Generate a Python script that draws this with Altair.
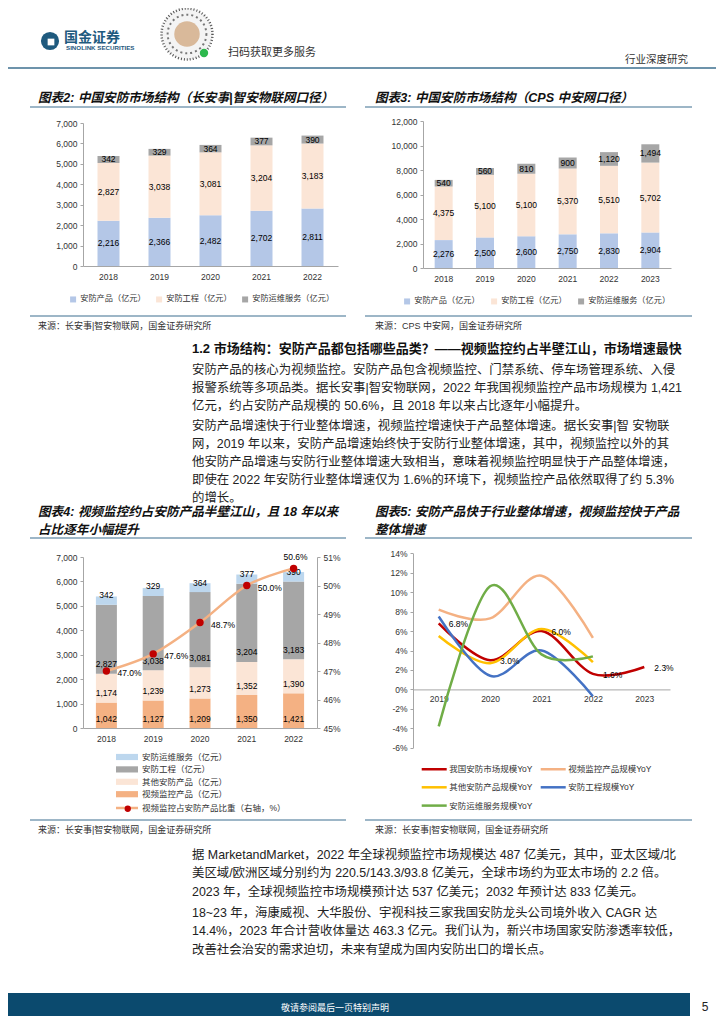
import altair as alt
import pandas as pd

# ---------------- data ----------------
years_fig2 = ["2018", "2019", "2020", "2021", "2022"]
fig2_series = ["安防产品（亿元）", "安防工程（亿元）", "安防运维服务（亿元）"]
fig2_products = [2216, 2366, 2482, 2702, 2811]
fig2_engineering = [2827, 3038, 3081, 3204, 3183]
fig2_services = [342, 329, 364, 377, 390]
fig2_ticks = [0, 1000, 2000, 3000, 4000, 5000, 6000, 7000]

years_fig3 = ["2018", "2019", "2020", "2021", "2022", "2023"]
fig3_series = ["安防产品（亿元）", "安防工程（亿元）", "安防运维服务（亿元）"]
fig3_products = [2276, 2500, 2600, 2750, 2830, 2904]
fig3_engineering = [4375, 5100, 5100, 5370, 5510, 5702]
fig3_services = [540, 560, 810, 900, 1120, 1494]
fig3_ticks = [0, 2000, 4000, 6000, 8000, 10000, 12000]

years_fig4 = ["2018", "2019", "2020", "2021", "2022"]
fig4_series = ["视频监控产品（亿元）", "其他安防产品（亿元）", "安防工程（亿元）", "安防运维服务（亿元）"]
fig4_video = [1042, 1127, 1209, 1350, 1421]
fig4_other = [1174, 1239, 1273, 1352, 1390]
fig4_engineering = [2827, 3038, 3081, 3204, 3183]
fig4_services = [342, 329, 364, 377, 390]
fig4_share_name = "视频监控占安防产品比重（右轴，%）"
fig4_share = [47.0, 47.6, 48.7, 50.0, 50.6]
fig4_left_ticks = [0, 1000, 2000, 3000, 4000, 5000, 6000, 7000]
fig4_right_ticks = [45, 46, 47, 48, 49, 50, 51]

years_fig5 = ["2019", "2020", "2021", "2022", "2023"]
fig5_series = ["我国安防市场规模YoY", "视频监控产品规模YoY", "其他安防产品规模YoY",
               "安防工程规模YoY", "安防运维服务规模YoY"]
fig5_market = [6.8, 3.0, 6.0, 1.6, 2.3]
fig5_video = [8.2, 7.3, 11.7, 5.3]
fig5_other = [5.5, 2.7, 6.2, 2.8]
fig5_engineering = [7.5, 1.4, 4.0, -0.7]
fig5_services = [-3.8, 10.6, 3.6, 3.4]
fig5_ticks = [-6, -4, -2, 0, 2, 4, 6, 8, 10, 12, 14]

# ---------------- styles / layout ----------------
W, H = 708, 1008
FONT = "Liberation Sans, Noto Sans CJK SC"
LINE_BLUE = "#3D6F8F"
fig2_colors = ["#B4C7E7", "#FBE5D6", "#A6A6A6"]
fig4_colors = ["#F4B183", "#FBE5D6", "#A6A6A6", "#BDD7EE"]
fig5_colors = ["#C00000", "#F4B183", "#FFC000", "#4472C4", "#70AD47"]


def X(v):
    return v - 8


def Y(v):
    return v - 8


def yaxis(orient, pos_x, ticks, expr):
    off = -X(pos_x) if orient == "left" else X(pos_x) - W
    return alt.Axis(orient=orient, offset=off, values=ticks, title=None, grid=False,
                    labelFontSize=8.5, labelFont=FONT, labelColor="#333333",
                    domainColor="#A6A6A6", tickColor="#A6A6A6", tickSize=3,
                    labelPadding=3, labelFlush=False, labelOverlap=False, labelExpr=expr)


def xaxis(pos_y, pad=6):
    return alt.Axis(orient="bottom", offset=Y(pos_y) - H, title=None, ticks=False,
                    labelAngle=0, labelFontSize=8.5, labelFont=FONT, labelColor="#333333",
                    domainColor="#A6A6A6", labelPadding=pad, grid=False)


COMMA = "format(datum.value, ',')"
PCT = "datum.value + '%'"


def stack_rows(years, names, series_values):
    rows = []
    for i, yr in enumerate(years):
        base = 0
        for k, (nm, vals) in enumerate(zip(names, series_values)):
            v = vals[i]
            rows.append({"year": yr, "series": nm, "value": v, "k": k,
                         "lo": base, "mid": base + v / 2, "label": f"{v:,}"})
            base += v
    return pd.DataFrame(rows)


def bar_panel(df, years, leg_domain, leg_range, x0, x1, yb, yt, ymax, ticks,
              bar_size, label_field, label_dy, legend):
    xs = alt.Scale(domain=years, range=[X(x0), X(x1)], paddingInner=0, paddingOuter=0)
    ys = alt.Scale(domain=[0, ymax], range=[Y(yb), Y(yt)], nice=False)
    xa = xaxis(yb)
    ya = yaxis("left", x0, ticks, COMMA)
    base = alt.Chart(df)
    bars = base.mark_bar(size=bar_size).encode(
        x=alt.X("year:N", scale=xs, sort=years, axis=xa),
        y=alt.Y("value:Q", stack="zero", scale=ys, axis=ya),
        color=alt.Color("series:N", scale=alt.Scale(domain=leg_domain, range=leg_range),
                        legend=legend),
        order=alt.Order("k:Q", sort="ascending"),
    )
    labels = base.mark_text(fontSize=8.5, font=FONT, color="#000000", dy=label_dy,
                            baseline="middle").encode(
        x=alt.X("year:N", scale=xs, sort=years, axis=xa),
        y=alt.Y(f"{label_field}:Q", stack=None, scale=ys, axis=ya),
        text="label:N",
    )
    return alt.layer(bars, labels), xs, xa


def h_legend(lx, ly, colpad):
    return alt.Legend(orient="none", legendX=X(lx), legendY=Y(ly), direction="horizontal",
                      columns=3, title=None, symbolType="square", symbolSize=36,
                      symbolStrokeWidth=0, labelFontSize=8.2, labelFont=FONT,
                      labelColor="#333333", labelOffset=3, columnPadding=colpad, padding=0)


# ---------------- figure 2 ----------------
df2 = stack_rows(years_fig2, fig2_series, [fig2_products, fig2_engineering, fig2_services])
fig2, _, _ = bar_panel(df2, years_fig2, fig2_series, fig2_colors, 83, 338, 266, 123, 7000,
                       fig2_ticks, 22, "mid", 0, h_legend(69, 295, 9))

# ---------------- figure 3 ----------------
df3 = stack_rows(years_fig3, fig3_series, [fig3_products, fig3_engineering, fig3_services])
fig3, _, _ = bar_panel(df3, years_fig3, fig3_series, fig2_colors, 423, 671, 268, 121, 12000,
                       fig3_ticks, 18, "mid", 0, h_legend(403, 297, 10))

# ---------------- figure 4 ----------------
df4 = stack_rows(years_fig4, fig4_series,
                 [fig4_video, fig4_other, fig4_engineering, fig4_services])
# wide swatch drawn larger than its layout box so that rows stay compact
leg4 = alt.Legend(orient="none", legendX=X(120), legendY=Y(750), direction="vertical",
                  title=None, symbolType="M-1.571,-0.443L1.571,-0.443L1.571,0.443L-1.571,0.443Z",
                  symbolSize=196, symbolStrokeWidth=0, labelFontSize=8.5, labelFont=FONT,
                  labelColor="#333333", labelOffset=8, rowPadding=0.4, padding=0)
fig4_bars, xs4, xa4 = bar_panel(df4, years_fig4, fig4_series[::-1], fig4_colors[::-1], 83, 317,
                                728, 557, 7000, fig4_left_ticks, 21, "lo", -9.5, leg4)

share_df = pd.DataFrame({"year": years_fig4, "share": fig4_share,
                         "name": [fig4_share_name] * len(years_fig4),
                         "dotname": ["marker"] * len(years_fig4),
                         "label": [f"{v:.1f}%" for v in fig4_share]})
ys4r = alt.Scale(domain=[45, 51], range=[Y(728), Y(557)], nice=False, zero=False)
ya4r = yaxis("right", 317, fig4_right_ticks, PCT)
share_line = alt.Chart(share_df).mark_line(strokeWidth=2.5, interpolate="cardinal").encode(
    x=alt.X("year:N", scale=xs4, sort=years_fig4, axis=xa4),
    y=alt.Y("share:Q", scale=ys4r, axis=ya4r),
    stroke=alt.Stroke("name:N", scale=alt.Scale(domain=[fig4_share_name], range=["#F4B183"]),
                      legend=alt.Legend(orient="none", legendX=X(114.5), legendY=Y(795.5),
                                        title=None, symbolType="stroke", symbolSize=484,
                                        symbolStrokeWidth=2.5, labelFontSize=8.5,
                                        labelFont=FONT, labelColor="#333333",
                                        labelOffset=2.5, padding=0)),
)
share_pts = alt.Chart(share_df).mark_circle(size=55, opacity=1).encode(
    x=alt.X("year:N", scale=xs4, sort=years_fig4, axis=xa4),
    y=alt.Y("share:Q", scale=ys4r, axis=ya4r),
    fill=alt.Fill("dotname:N", scale=alt.Scale(domain=["marker"], range=["#C00000"]),
                  legend=alt.Legend(orient="none", legendX=X(123.5), legendY=Y(804.5),
                                    title=None, symbolType="circle", symbolSize=40,
                                    symbolStrokeWidth=0, labelFontSize=8.5, labelFont=FONT,
                                    labelExpr="''", padding=0)),
)
share_lab_right = alt.Chart(share_df).transform_filter(
    alt.datum.year != years_fig4[-1]).mark_text(
    align="left", baseline="middle", dx=11, dy=2, fontSize=8.5, font=FONT, color="#000000").encode(
    x=alt.X("year:N", scale=xs4, sort=years_fig4, axis=xa4),
    y=alt.Y("share:Q", scale=ys4r, axis=ya4r), text="label:N")
share_lab_top = alt.Chart(share_df).transform_filter(
    alt.datum.year == years_fig4[-1]).mark_text(
    align="center", baseline="middle", dx=2, dy=-11, fontSize=8.5, font=FONT, color="#000000").encode(
    x=alt.X("year:N", scale=xs4, sort=years_fig4, axis=xa4),
    y=alt.Y("share:Q", scale=ys4r, axis=ya4r), text="label:N")
fig4_line = alt.layer(share_line, share_pts, share_lab_right, share_lab_top)
fig4 = alt.layer(fig4_bars, fig4_line).resolve_scale(y="independent")

# ---------------- figure 5 ----------------
rows5 = []
for nm, vals in zip(fig5_series, [fig5_market, fig5_video, fig5_other,
                                  fig5_engineering, fig5_services]):
    for yr, v in zip(years_fig5, vals):
        rows5.append({"year": yr, "series": nm, "value": v, "label": f"{v:.1f}%"})
df5 = pd.DataFrame(rows5)
xs5 = alt.Scale(type="point", domain=years_fig5, range=[X(413), X(670)], padding=0.5)
ys5 = alt.Scale(domain=[-6, 14], range=[Y(747.7), Y(553.3)], nice=False, zero=False)
xa5 = xaxis(689.4, pad=5)
ya5 = yaxis("left", 413, fig5_ticks, PCT)
leg5 = alt.Legend(orient="none", legendX=X(422.7), legendY=Y(757.5), columns=2,
                  direction="horizontal", title=None,
                  symbolType="M-1.25,0L1.25,0", symbolSize=400, symbolStrokeWidth=2.5,
                  labelFontSize=8.5, labelFont=FONT, labelColor="#333333", labelOffset=3.5,
                  columnPadding=3, rowPadding=1.3, padding=0)
lines5 = alt.Chart(df5).mark_line(strokeWidth=2.5, interpolate="cardinal").encode(
    x=alt.X("year:O", scale=xs5, sort=years_fig5, axis=xa5),
    y=alt.Y("value:Q", scale=ys5, axis=ya5),
    color=alt.Color("series:N", scale=alt.Scale(domain=fig5_series, range=fig5_colors),
                    legend=leg5),
)
labels5 = alt.Chart(df5).transform_filter(alt.datum.series == fig5_series[0]).mark_text(
    align="left", baseline="middle", dx=10, dy=1, fontSize=8.5, font=FONT, color="#000000").encode(
    x=alt.X("year:O", scale=xs5, sort=years_fig5, axis=xa5),
    y=alt.Y("value:Q", scale=ys5, axis=ya5), text="label:N")
fig5 = alt.layer(lines5, labels5)


# ---------------- page text & decoration ----------------
def text_layer(items, size, weight="normal", style="normal", color="#222222", align="left"):
    df = pd.DataFrame([{"t": t, "x": X(x), "y": Y(y)} for (x, y, t) in items])
    return alt.Chart(df).mark_text(align=align, baseline="middle", fontSize=size,
                                   fontWeight=weight, fontStyle=style, color=color,
                                   font=FONT).encode(
        x=alt.X("x:Q", scale=None, axis=None), y=alt.Y("y:Q", scale=None, axis=None),
        text="t:N")


def para(x, y0, lh, lines):
    return [(x, y0 + i * lh, t) for i, t in enumerate(lines)]


p1 = ["安防产品的核心为视频监控。安防产品包含视频监控、门禁系统、停车场管理系统、入侵",
      "报警系统等多项品类。据长安事|智安物联网，2022 年我国视频监控产品市场规模为 1,421",
      "亿元，约占安防产品规模的 50.6%，且 2018 年以来占比逐年小幅提升。"]
p2 = ["安防产品增速快于行业整体增速，视频监控增速快于产品整体增速。据长安事|智 安物联",
      "网，2019 年以来，安防产品增速始终快于安防行业整体增速，其中，视频监控以外的其",
      "他安防产品增速与安防行业整体增速大致相当，意味着视频监控明显快于产品整体增速，",
      "即使在 2022 年安防行业整体增速仅为 1.6%的环境下，视频监控产品依然取得了约 5.3%",
      "的增长。"]
p3 = ["据 MarketandMarket，2022 年全球视频监控市场规模达 487 亿美元，其中，亚太区域/北",
      "美区域/欧洲区域分别约为 220.5/143.3/93.8 亿美元，全球市场约为亚太市场的 2.2 倍。",
      "2023 年，全球视频监控市场规模预计达 537 亿美元；2032 年预计达 833 亿美元。"]
p4 = ["18~23 年，海康威视、大华股份、宇视科技三家我国安防龙头公司境外收入 CAGR 达",
      "14.4%，2023 年合计营收体量达 463.3 亿元。我们认为，新兴市场国家安防渗透率较低，",
      "改善社会治安的需求迫切，未来有望成为国内安防出口的增长点。"]

body = text_layer(para(192, 369.5, 18, p1) + para(192, 426, 18, p2) +
                  para(192, 855, 18.4, p3) + para(192, 913, 18.4, p4), 12.4)
heading = text_layer([(192, 349, "1.2 市场结构：安防产品都包括哪些品类？——视频监控约占半壁江山，市场增速最快")],
                     13, weight="bold", color="#111111")
titles = text_layer([(38, 97.5, "图表2:  中国安防市场结构（长安事|智安物联网口径）"),
                     (375, 97.5, "图表3:  中国安防市场结构（CPS 中安网口径）"),
                     (38, 512, "图表4:  视频监控约占安防产品半壁江山，且 18 年以来"),
                     (38, 530, "占比逐年小幅提升"),
                     (375, 512, "图表5:  安防产品快于行业整体增速，视频监控快于产品"),
                     (375, 530, "整体增速")],
                    12.6, weight="bold", style="italic", color="#111111")
sources = text_layer([(38, 326, "来源：长安事|智安物联网，国金证券研究所"),
                      (375, 326, "来源：CPS 中安网，国金证券研究所"),
                      (38, 830, "来源：长安事|智安物联网，国金证券研究所"),
                      (375, 830, "来源：长安事|智安物联网，国金证券研究所")], 9, color="#333333")
header_txt = text_layer([(228, 53, "扫码获取更多服务")], 11, color="#333333")
header_right = text_layer([(688, 60, "行业深度研究")], 10.5, color="#333333", align="right")
logo_cn = text_layer([(64, 38, "国金证券")], 14, weight="bold", color="#1F5A7E")
logo_en = text_layer([(66, 48, "SINOLINK SECURITIES")], 6.2, weight="bold", color="#1F5A7E")
footer_txt = text_layer([(335, 1008, "敬请参阅最后一页特别声明")], 9, color="#FFFFFF", align="center")
page_no = text_layer([(705, 1007, "5")], 12, color="#222222", align="center")

rules_df = pd.DataFrame([
    {"x": X(30), "x2": X(346), "y": Y(107)}, {"x": X(365), "x2": X(692), "y": Y(107)},
    {"x": X(30), "x2": X(346), "y": Y(316)}, {"x": X(365), "x2": X(692), "y": Y(316)},
    {"x": X(30), "x2": X(346), "y": Y(538)}, {"x": X(365), "x2": X(692), "y": Y(538)},
    {"x": X(30), "x2": X(346), "y": Y(820)}, {"x": X(365), "x2": X(692), "y": Y(820)},
])
rules = alt.Chart(rules_df).mark_rule(color=LINE_BLUE, strokeWidth=1.2).encode(
    x=alt.X("x:Q", scale=None, axis=None), x2="x2:Q", y=alt.Y("y:Q", scale=None, axis=None))
header_rule = alt.Chart(pd.DataFrame([{"x": 0, "x2": W, "y": Y(68)}])).mark_rule(
    color=LINE_BLUE, strokeWidth=1.6).encode(
    x=alt.X("x:Q", scale=None, axis=None), x2="x2:Q", y=alt.Y("y:Q", scale=None, axis=None))
footer_bar = alt.Chart(pd.DataFrame([{"x": 0, "x2": X(690), "y": Y(993), "y2": H}])).mark_rect(
    color="#0B4A6E").encode(
    x=alt.X("x:Q", scale=None, axis=None), x2="x2:Q",
    y=alt.Y("y:Q", scale=None, axis=None), y2="y2:Q")


def dot(x, y, size, **kw):
    return alt.Chart(pd.DataFrame([{"x": X(x), "y": Y(y)}])).mark_point(size=size, **kw).encode(
        x=alt.X("x:Q", scale=None, axis=None), y=alt.Y("y:Q", scale=None, axis=None))


logo = alt.layer(
    dot(50, 41, 330, shape="circle", filled=True, color="#1F5A7E", opacity=1),
    dot(51, 42, 45, shape="square", filled=True, color="#FFFFFF", opacity=1),
)
qr = alt.layer(
    dot(187, 34, 2700, shape="circle", filled=True, color="#F4F4F4", opacity=1),
    dot(187, 34, 2600, shape="circle", filled=False, color="#555555", strokeWidth=2.5,
        strokeDash=[1, 2], opacity=1),
    dot(187, 34, 1500, shape="circle", filled=False, color="#777777", strokeWidth=2,
        strokeDash=[2, 3], opacity=1),
    dot(187, 34, 650, shape="circle", filled=True, color="#D9B99A", opacity=1),
    dot(204, 53, 70, shape="circle", filled=True, color="#2DB84D", opacity=1),
)

layers = [footer_bar, header_rule, rules, logo, qr, logo_cn, logo_en, header_txt, header_right,
          titles, sources, heading, body, footer_txt, page_no, fig2, fig3, fig4, fig5]

chart = alt.layer(*layers).resolve_scale(
    x="independent", y="independent", color="independent", fill="independent",
    stroke="independent"
).properties(
    width=W, height=H, autosize=alt.AutoSizeParams(type="none"), padding=0,
    background="white"
).configure_view(strokeWidth=0)

chart.save("out.html", embed_options={"renderer": "svg", "actions": False})
